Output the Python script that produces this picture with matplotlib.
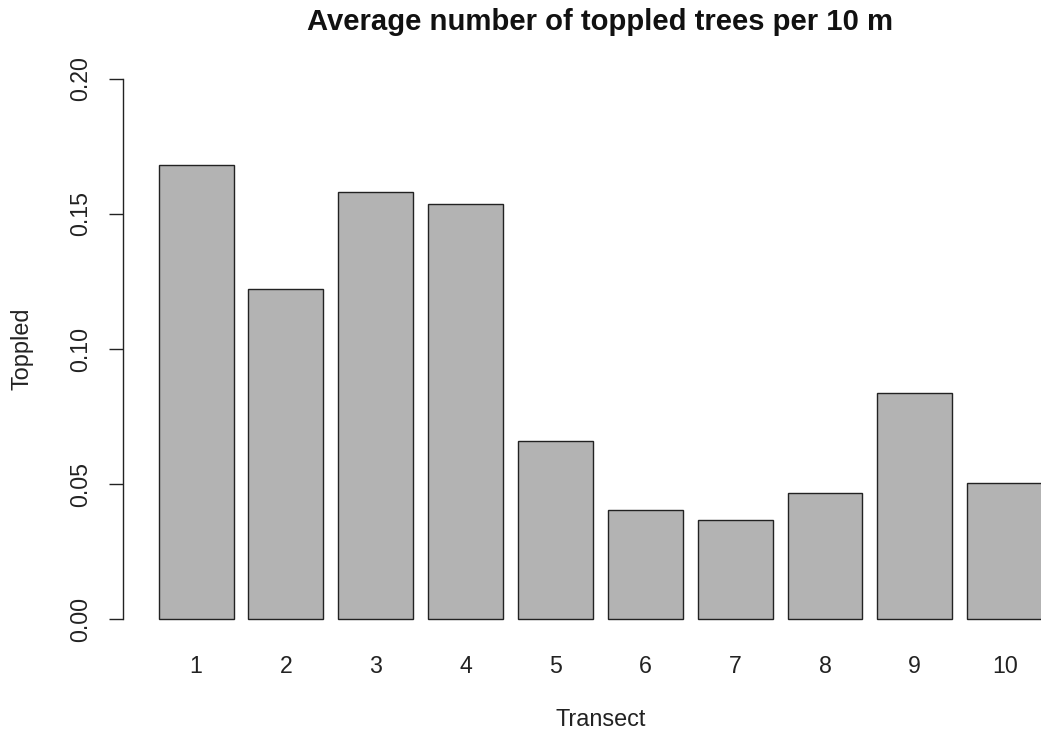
import matplotlib
matplotlib.use("Agg")
import matplotlib.pyplot as plt

plt.rcParams['font.family'] = ['Liberation Sans', 'DejaVu Sans']

transects = ['1', '2', '3', '4', '5', '6', '7', '8', '9', '10']
toppled = [0.1681, 0.1222, 0.1581, 0.1537, 0.0660, 0.0404, 0.0367, 0.0468, 0.0838, 0.0505]
yticks = [0.00, 0.05, 0.10, 0.15, 0.20]
ytick_labels = ['0.00', '0.05', '0.10', '0.15', '0.20']
title = 'Average number of toppled trees per 10 m'
xlabel = 'Transect'
ylabel = 'Toppled'

W, H = 1041, 736
fig = plt.figure(figsize=(W / 100, H / 100), dpi=100)

# plot region in pixels (R style)
left_px, right_px = 122.7, 1078.0
bottom_px, top_px = 640.9, 57.1
ax = fig.add_axes([left_px / W, 1 - bottom_px / H,
                   (right_px - left_px) / W, (bottom_px - top_px) / H])

width = 1.0
space = 0.2
xs = [space + i * (width + space) + width / 2 for i in range(len(toppled))]
ax.bar(xs, toppled, width=width, color='#b3b3b3', edgecolor='#222222',
       linewidth=1.0, clip_on=True)

ax.set_xlim(-0.28, 12.48)
ax.set_ylim(-0.008, 0.208)

for s in ['top', 'right', 'bottom']:
    ax.spines[s].set_visible(False)
ax.spines['left'].set_bounds(0, 0.2)
ax.spines['left'].set_linewidth(1.0)
ax.spines['left'].set_color('#222222')

ax.set_yticks(yticks)
ax.set_yticklabels(ytick_labels, rotation=90, va='center')
ax.tick_params(axis='y', length=10, width=1.0, color='#222222', pad=12,
               labelsize=16.7, labelcolor='#222222')
ax.set_xticks(xs)
ax.set_xticklabels(transects)
ax.tick_params(axis='x', length=0, pad=10, labelsize=16.7, labelcolor='#222222')

fig.text(600 / W, 1 - 22 / H, title, ha='center', va='center',
         fontsize=21.1, fontweight='bold', color='#111111')
fig.text(601 / W, 1 - 720 / H, xlabel, ha='center', va='center',
         fontsize=16.9, color='#222222')
fig.text(22 / W, 1 - 349 / H, ylabel, ha='center', va='center',
         fontsize=16.9, rotation=90, color='#222222')

fig.savefig('out.png', dpi=100)
